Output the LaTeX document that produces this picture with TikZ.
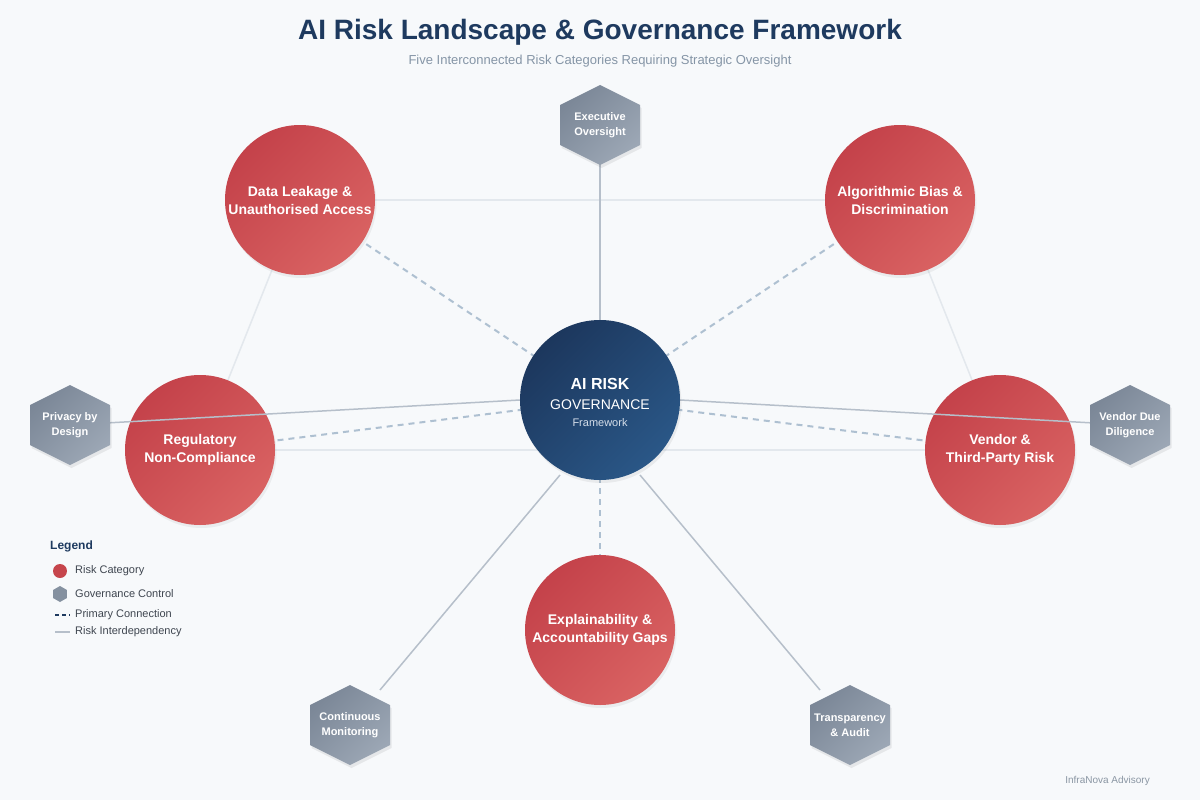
\documentclass[tikz,border=0pt]{standalone}
\usepackage{fontspec}
\setmainfont{Liberation Sans}
\usetikzlibrary{shadows,shapes.geometric,calc}
\definecolor{bgc}{HTML}{F7F9FB}
\definecolor{navy}{HTML}{1E3A5F}
\definecolor{subg}{HTML}{8595A6}
\definecolor{riskA}{HTML}{C4424A}
\definecolor{riskB}{HTML}{D96262}
\definecolor{ctrA}{HTML}{1C375D}
\definecolor{ctrB}{HTML}{2A5787}
\definecolor{hexA}{HTML}{7B8797}
\definecolor{hexB}{HTML}{9CA7B5}
\definecolor{dashc}{HTML}{AEC0D1}
\definecolor{govc}{HTML}{B6BFCA}
\definecolor{interc}{HTML}{E3E8ED}
\definecolor{legtxt}{HTML}{3F4650}
\definecolor{footc}{HTML}{8A96A3}
\definecolor{ctrsub}{HTML}{D5DEEA}
\pgfdeclarelayer{lbg}
\pgfdeclarelayer{lzero}
\pgfdeclarelayer{lone}
\pgfdeclarelayer{ltwo}
\pgfsetlayers{lbg,lzero,lone,ltwo,main}
\tikzset{
  riskcircle/.style={circle, minimum size=150pt, inner sep=0pt, text=white,
    align=center, font=\fontsize{14}{18}\selectfont\bfseries,
    top color=riskA, bottom color=riskB, shading angle=45,
    drop shadow={shadow xshift=1.5pt, shadow yshift=-3pt, opacity=0.10}},
  ctrcircle/.style={circle, minimum size=160pt, inner sep=0pt, text=white,
    align=center, top color=ctrA, bottom color=ctrB, shading angle=45,
    drop shadow={shadow xshift=1.5pt, shadow yshift=-3pt, opacity=0.12}},
  hexshade/.style={top color=hexA, bottom color=hexB, shading angle=45},
  hextext/.style={text=white, align=center, font=\fontsize{11}{15}\selectfont\bfseries, inner sep=0pt},
  primline/.style={dashc, line width=2pt, dash pattern=on 6pt off 5pt},
  govline/.style={govc, line width=1.5pt},
  interline/.style={interc, line width=1.5pt},
  legtext/.style={anchor=west, text=legtxt, font=\fontsize{11}{13}\selectfont, inner sep=0pt},
}
\newcommand{\govhex}[4]{%
  \begin{scope}[shift={(#2,#3)}]
    \fill[black, opacity=0.07, shift={(1.5,3)}] (0,-40)--(40,-20)--(40,20)--(0,40)--(-40,20)--(-40,-20)--cycle;
    \shade[hexshade] (0,-40)--(40,-20)--(40,20)--(0,40)--(-40,20)--(-40,-20)--cycle;
    \node[hextext] (#1) at (0,0) {#4};
  \end{scope}}
\begin{document}
\begin{tikzpicture}[x=1pt, y=-1pt]
\begin{pgfonlayer}{lbg}
\fill[bgc] (0,0) rectangle (1200,800);
\end{pgfonlayer}
\useasboundingbox (0,0) rectangle (1200,800);

% title
\node[text=navy, font=\fontsize{28}{32}\selectfont\bfseries] (title) at (600,32) {AI Risk Landscape \& Governance Framework};
\node[text=subg, font=\fontsize{13}{16}\selectfont] (subtitle) at (600,61) {Five Interconnected Risk Categories Requiring Strategic Oversight};

% risk circles
\begin{pgfonlayer}{lone}
\node[riskcircle] (data) at (300,200) {Data Leakage \&\\Unauthorised Access};
\node[riskcircle] (bias) at (900,200) {Algorithmic Bias \&\\Discrimination};
\node[riskcircle] (reg) at (200,450) {Regulatory\\Non-Compliance};
\node[riskcircle] (vendor) at (1000,450) {Vendor \&\\Third-Party Risk};
\node[riskcircle] (expl) at (600,630) {Explainability \&\\Accountability Gaps};
\end{pgfonlayer}

% center
\node[ctrcircle] (ctr) at (600,400) {};
\node[text=white, font=\fontsize{16}{20}\selectfont\bfseries] (ctrA) at (600,384) {AI RISK};
\node[text=white, font=\fontsize{14}{18}\selectfont] (ctrB) at (600,405) {GOVERNANCE};
\node[text=ctrsub, font=\fontsize{11}{14}\selectfont] (ctrC) at (600,423) {Framework};

% hexagons
\govhex{exec}{600}{125}{Executive\\Oversight}
\govhex{priv}{70}{425}{Privacy by\\Design}
\govhex{vdd}{1130}{425}{Vendor Due\\Diligence}
\govhex{mon}{350}{725}{Continuous\\Monitoring}
\govhex{audit}{850}{725}{Transparency\\\& Audit}

% interdependency and primary lines
\begin{pgfonlayer}{lzero}
\draw[interline] (data.center) -- (bias.center);
\draw[interline] (data.center) -- (reg.center);
\draw[interline] (bias.center) -- (vendor.center);
\draw[interline] (reg.center) -- (vendor.center);
\draw[primline] (ctr.center) -- (data.center);
\draw[primline] (ctr.center) -- (bias.center);
\draw[primline] (ctr.center) -- (reg.center);
\draw[primline] (ctr.center) -- (vendor.center);
\draw[primline] (ctr.center) -- (expl.center);
\end{pgfonlayer}

% governance lines
\coordinate (monS) at (560,475);
\coordinate (monE) at (380,690);
\coordinate (audS) at (640,475);
\coordinate (audE) at (820,690);
\coordinate (privS) at (520,400);
\coordinate (vddS) at (680,400);
\begin{pgfonlayer}{ltwo}
\draw[govline] (ctr.center) -- (exec.center);
\draw[govline] (privS) -- (priv.center);
\draw[govline] (vddS) -- (vdd.center);
\draw[govline] (monS) -- (monE);
\draw[govline] (audS) -- (audE);
\end{pgfonlayer}

% legend
\node[anchor=west, text=navy, font=\fontsize{12}{14}\selectfont\bfseries, inner sep=0pt] (legtitle) at (50,546) {Legend};
\node[circle, fill=riskA!90!riskB, minimum size=14pt, inner sep=0pt] (legrisk) at (60,571) {};
\node[legtext] (legriskt) at (75,571) {Risk Category};
\node[regular polygon, regular polygon sides=6, shape border rotate=30, fill=hexA!70!hexB, minimum size=16pt, inner sep=0pt] (leghex) at (60,594) {};
\node[legtext] (leghext) at (75,594) {Governance Control};
\coordinate (lpa) at (55,615);
\coordinate (lpb) at (70,615);
\draw[navy, line width=2pt, dash pattern=on 4pt off 3pt] (lpa) -- (lpb);
\node[legtext] (legprim) at (75,615) {Primary Connection};
\coordinate (lia) at (55,632);
\coordinate (lib) at (70,632);
\draw[govc, line width=1.5pt] (lia) -- (lib);
\node[legtext] (leginter) at (75,632) {Risk Interdependency};

% footer
\node[anchor=east, text=footc, font=\fontsize{10}{12}\selectfont, inner sep=0pt] (footer) at (1150,781) {InfraNova Advisory};
\end{tikzpicture}
\end{document}
